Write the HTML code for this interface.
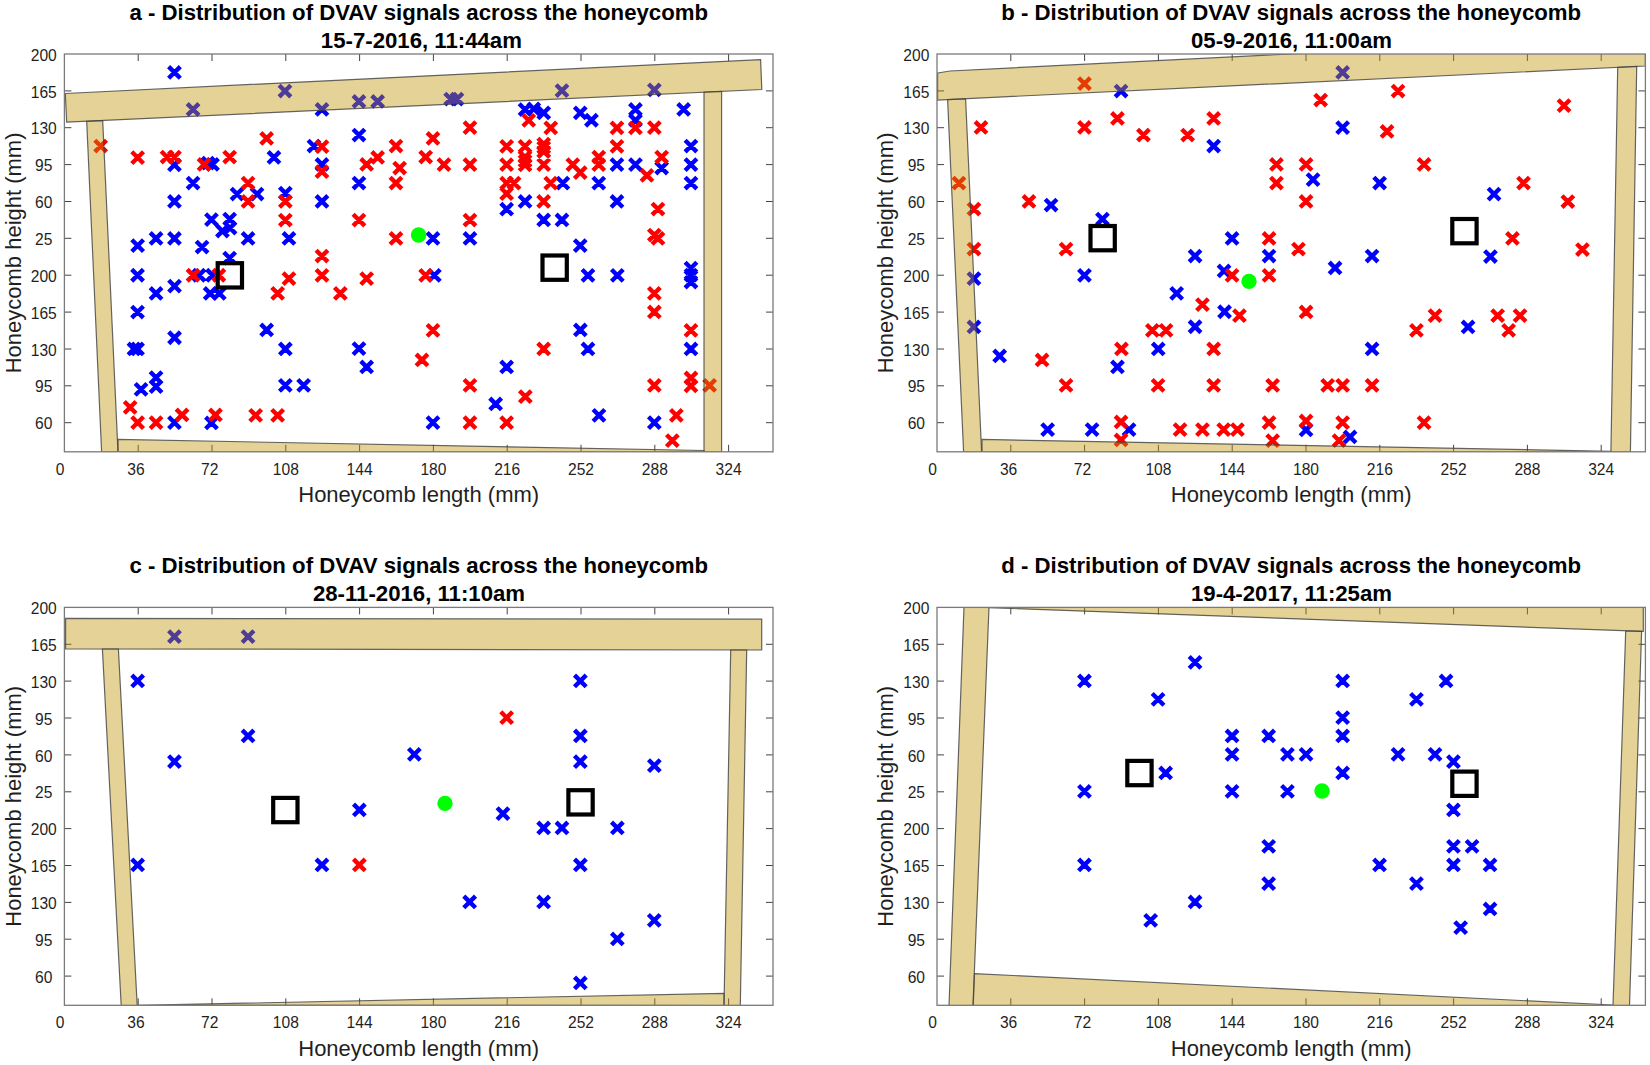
<!DOCTYPE html>
<html lang="en"><head><meta charset="utf-8"><title>Distribution of DVAV signals across the honeycomb</title>
<style>html,body{margin:0;padding:0;background:#fff}svg{display:block}text{font-family:'Liberation Sans', Arial, Helvetica, sans-serif;fill:#1f1f1f}.tk{font-size:15.6px}.lb{font-size:22px}.tt{font-size:22.2px;font-weight:bold;fill:#000}.b{stroke:#0000ff}.r{stroke:#ff0000}.m{stroke-width:4.4;fill:none;stroke-linecap:butt}.fr{fill:rgb(193,145,2);fill-opacity:.41;stroke:#404040;stroke-opacity:.8;stroke-width:1.2;stroke-linejoin:miter}.ax{fill:none;stroke:#7a7a7a;stroke-width:1.3}.ti{stroke:#444;stroke-width:1;fill:none}.sq{fill:none;stroke:#000;stroke-width:4.2}.g{fill:#00ff00}</style></head><body>
<svg width="1650" height="1065" viewBox="0 0 1650 1065">
<rect width="1650" height="1065" fill="#fff"/>
<g id="panel-a">
<clipPath id="cpa"><rect x="64.4" y="54" width="708.6" height="397.8"/></clipPath>
<text class="tt" x="418.7" y="19.7" text-anchor="middle">a - Distribution of DVAV signals across the honeycomb</text>
<text class="tt" x="421.4" y="47.6" text-anchor="middle">15-7-2016, 11:44am</text>
<path class="ti" d="M138.2 54v7M138.2 451.8v-7M212 54v7M212 451.8v-7M285.8 54v7M285.8 451.8v-7M359.6 54v7M359.6 451.8v-7M433.4 54v7M433.4 451.8v-7M507.2 54v7M507.2 451.8v-7M581 54v7M581 451.8v-7M654.8 54v7M654.8 451.8v-7M728.6 54v7M728.6 451.8v-7M64.4 90.9h7M773 90.9h-7M64.4 127.7h7M773 127.7h-7M64.4 164.6h7M773 164.6h-7M64.4 201.5h7M773 201.5h-7M64.4 238.3h7M773 238.3h-7M64.4 275.2h7M773 275.2h-7M64.4 312.1h7M773 312.1h-7M64.4 349h7M773 349h-7M64.4 385.8h7M773 385.8h-7M64.4 422.7h7M773 422.7h-7"/>
<g clip-path="url(#cpa)">
<path class="m b" d="M168.6 66.6l11.7 11.7m0 -11.7l-11.7 11.7M279.1 85.2l11.7 11.7m0 -11.7l-11.7 11.7M187.2 103.6l11.7 11.7m0 -11.7l-11.7 11.7M316.1 103.6l11.7 11.7m0 -11.7l-11.7 11.7M353.1 95.6l11.7 11.7m0 -11.7l-11.7 11.7M371.8 95.6l11.7 11.7m0 -11.7l-11.7 11.7M168.6 159l11.7 11.7m0 -11.7l-11.7 11.7M206.7 158.6l11.7 11.7m0 -11.7l-11.7 11.7M202.2 157.2l11.7 11.7m0 -11.7l-11.7 11.7M268.1 151.6l11.7 11.7m0 -11.7l-11.7 11.7M308.1 140.2l11.7 11.7m0 -11.7l-11.7 11.7M316.1 158.6l11.7 11.7m0 -11.7l-11.7 11.7M353.1 129.2l11.7 11.7m0 -11.7l-11.7 11.7M187.2 177.2l11.7 11.7m0 -11.7l-11.7 11.7M231.2 188.2l11.7 11.7m0 -11.7l-11.7 11.7M251.2 188.2l11.7 11.7m0 -11.7l-11.7 11.7M279.5 187.2l11.7 11.7m0 -11.7l-11.7 11.7M168.6 195.6l11.7 11.7m0 -11.7l-11.7 11.7M316.1 195.6l11.7 11.7m0 -11.7l-11.7 11.7M353.1 177.2l11.7 11.7m0 -11.7l-11.7 11.7M205.6 213.8l11.7 11.7m0 -11.7l-11.7 11.7M223.8 213.2l11.7 11.7m0 -11.7l-11.7 11.7M224.2 222.2l11.7 11.7m0 -11.7l-11.7 11.7M216.6 225.2l11.7 11.7m0 -11.7l-11.7 11.7M242.2 232.6l11.7 11.7m0 -11.7l-11.7 11.7M283.1 232.6l11.7 11.7m0 -11.7l-11.7 11.7M168.6 232.6l11.7 11.7m0 -11.7l-11.7 11.7M150.2 232.6l11.7 11.7m0 -11.7l-11.7 11.7M131.8 239.8l11.7 11.7m0 -11.7l-11.7 11.7M196.2 241.2l11.7 11.7m0 -11.7l-11.7 11.7M223.8 252.2l11.7 11.7m0 -11.7l-11.7 11.7M444.8 93.2l11.7 11.7m0 -11.7l-11.7 11.7M451.1 93.2l11.7 11.7m0 -11.7l-11.7 11.7M556.1 84.8l11.7 11.7m0 -11.7l-11.7 11.7M648.5 84l11.7 11.7m0 -11.7l-11.7 11.7M519.2 103.7l11.7 11.7m0 -11.7l-11.7 11.7M527.9 103l11.7 11.7m0 -11.7l-11.7 11.7M537.9 107l11.7 11.7m0 -11.7l-11.7 11.7M574.4 107l11.7 11.7m0 -11.7l-11.7 11.7M585.6 114.4l11.7 11.7m0 -11.7l-11.7 11.7M629.6 103.6l11.7 11.7m0 -11.7l-11.7 11.7M629.6 114.6l11.7 11.7m0 -11.7l-11.7 11.7M677.8 103.6l11.7 11.7m0 -11.7l-11.7 11.7M611.1 158.8l11.7 11.7m0 -11.7l-11.7 11.7M629.6 158.8l11.7 11.7m0 -11.7l-11.7 11.7M655.8 162.2l11.7 11.7m0 -11.7l-11.7 11.7M685.1 140.2l11.7 11.7m0 -11.7l-11.7 11.7M685.1 158.8l11.7 11.7m0 -11.7l-11.7 11.7M685.1 177.2l11.7 11.7m0 -11.7l-11.7 11.7M557 177.3l11.7 11.7m0 -11.7l-11.7 11.7M592.9 177.3l11.7 11.7m0 -11.7l-11.7 11.7M519.2 195.6l11.7 11.7m0 -11.7l-11.7 11.7M500.8 203.3l11.7 11.7m0 -11.7l-11.7 11.7M611.1 195.6l11.7 11.7m0 -11.7l-11.7 11.7M537.8 214.1l11.7 11.7m0 -11.7l-11.7 11.7M556.1 214.1l11.7 11.7m0 -11.7l-11.7 11.7M427.1 232.6l11.7 11.7m0 -11.7l-11.7 11.7M464.1 232.6l11.7 11.7m0 -11.7l-11.7 11.7M574.4 239.8l11.7 11.7m0 -11.7l-11.7 11.7M131.7 269.4l11.7 11.7m0 -11.7l-11.7 11.7M193.2 269.4l11.7 11.7m0 -11.7l-11.7 11.7M206.7 269.4l11.7 11.7m0 -11.7l-11.7 11.7M168.7 280.3l11.7 11.7m0 -11.7l-11.7 11.7M150.2 287.6l11.7 11.7m0 -11.7l-11.7 11.7M204.3 287.6l11.7 11.7m0 -11.7l-11.7 11.7M213.5 287.6l11.7 11.7m0 -11.7l-11.7 11.7M131.7 306.2l11.7 11.7m0 -11.7l-11.7 11.7M168.7 331.9l11.7 11.7m0 -11.7l-11.7 11.7M128.1 343.1l11.7 11.7m0 -11.7l-11.7 11.7M131.7 343.1l11.7 11.7m0 -11.7l-11.7 11.7M260.8 324.1l11.7 11.7m0 -11.7l-11.7 11.7M279.5 343.1l11.7 11.7m0 -11.7l-11.7 11.7M353.1 342.8l11.7 11.7m0 -11.7l-11.7 11.7M360.8 361.1l11.7 11.7m0 -11.7l-11.7 11.7M279.5 379.5l11.7 11.7m0 -11.7l-11.7 11.7M297.8 379.5l11.7 11.7m0 -11.7l-11.7 11.7M150.2 371.8l11.7 11.7m0 -11.7l-11.7 11.7M150.2 380.8l11.7 11.7m0 -11.7l-11.7 11.7M135.2 383.5l11.7 11.7m0 -11.7l-11.7 11.7M168.6 416.8l11.7 11.7m0 -11.7l-11.7 11.7M205.6 417.1l11.7 11.7m0 -11.7l-11.7 11.7M428.5 269.5l11.7 11.7m0 -11.7l-11.7 11.7M582.1 269.5l11.7 11.7m0 -11.7l-11.7 11.7M611.5 269.5l11.7 11.7m0 -11.7l-11.7 11.7M685.1 262.3l11.7 11.7m0 -11.7l-11.7 11.7M685.1 269.3l11.7 11.7m0 -11.7l-11.7 11.7M685.1 276.2l11.7 11.7m0 -11.7l-11.7 11.7M574.5 324.1l11.7 11.7m0 -11.7l-11.7 11.7M582.1 343.1l11.7 11.7m0 -11.7l-11.7 11.7M685.1 343.1l11.7 11.7m0 -11.7l-11.7 11.7M500.8 361.1l11.7 11.7m0 -11.7l-11.7 11.7M489.8 398.1l11.7 11.7m0 -11.7l-11.7 11.7M593.1 409.5l11.7 11.7m0 -11.7l-11.7 11.7M427.1 416.8l11.7 11.7m0 -11.7l-11.7 11.7M648.5 416.8l11.7 11.7m0 -11.7l-11.7 11.7"/>
<path class="m r" d="M94.8 140.2l11.7 11.7m0 -11.7l-11.7 11.7M131.8 151.8l11.7 11.7m0 -11.7l-11.7 11.7M161.2 151.2l11.7 11.7m0 -11.7l-11.7 11.7M168.6 151.2l11.7 11.7m0 -11.7l-11.7 11.7M198.2 158.6l11.7 11.7m0 -11.7l-11.7 11.7M223.8 151.2l11.7 11.7m0 -11.7l-11.7 11.7M260.8 132.6l11.7 11.7m0 -11.7l-11.7 11.7M316.1 140.8l11.7 11.7m0 -11.7l-11.7 11.7M316.1 165.8l11.7 11.7m0 -11.7l-11.7 11.7M371.8 151.6l11.7 11.7m0 -11.7l-11.7 11.7M360.8 158.6l11.7 11.7m0 -11.7l-11.7 11.7M242.2 177.2l11.7 11.7m0 -11.7l-11.7 11.7M242.2 195.6l11.7 11.7m0 -11.7l-11.7 11.7M279.5 195.6l11.7 11.7m0 -11.7l-11.7 11.7M279.5 214.2l11.7 11.7m0 -11.7l-11.7 11.7M353.1 214.2l11.7 11.7m0 -11.7l-11.7 11.7M316.1 250.2l11.7 11.7m0 -11.7l-11.7 11.7M464.1 121.8l11.7 11.7m0 -11.7l-11.7 11.7M522.9 114.5l11.7 11.7m0 -11.7l-11.7 11.7M544.9 122l11.7 11.7m0 -11.7l-11.7 11.7M611.1 122l11.7 11.7m0 -11.7l-11.7 11.7M629.6 122l11.7 11.7m0 -11.7l-11.7 11.7M648.5 121.8l11.7 11.7m0 -11.7l-11.7 11.7M427.1 132.6l11.7 11.7m0 -11.7l-11.7 11.7M390.1 140.2l11.7 11.7m0 -11.7l-11.7 11.7M419.8 151.2l11.7 11.7m0 -11.7l-11.7 11.7M438.1 158.8l11.7 11.7m0 -11.7l-11.7 11.7M464.1 158.8l11.7 11.7m0 -11.7l-11.7 11.7M393.8 162.2l11.7 11.7m0 -11.7l-11.7 11.7M390.1 177.2l11.7 11.7m0 -11.7l-11.7 11.7M500.8 140.5l11.7 11.7m0 -11.7l-11.7 11.7M519.2 140.5l11.7 11.7m0 -11.7l-11.7 11.7M519.2 151.2l11.7 11.7m0 -11.7l-11.7 11.7M519.2 155.2l11.7 11.7m0 -11.7l-11.7 11.7M519.2 159l11.7 11.7m0 -11.7l-11.7 11.7M537.9 138.3l11.7 11.7m0 -11.7l-11.7 11.7M537.9 141.6l11.7 11.7m0 -11.7l-11.7 11.7M537.9 145.7l11.7 11.7m0 -11.7l-11.7 11.7M537.9 158.8l11.7 11.7m0 -11.7l-11.7 11.7M500.8 158.8l11.7 11.7m0 -11.7l-11.7 11.7M611.1 140.5l11.7 11.7m0 -11.7l-11.7 11.7M592.9 151.2l11.7 11.7m0 -11.7l-11.7 11.7M592.9 158.8l11.7 11.7m0 -11.7l-11.7 11.7M567 158.8l11.7 11.7m0 -11.7l-11.7 11.7M574.4 166.8l11.7 11.7m0 -11.7l-11.7 11.7M655.8 151.2l11.7 11.7m0 -11.7l-11.7 11.7M641.1 169.6l11.7 11.7m0 -11.7l-11.7 11.7M500.8 177.3l11.7 11.7m0 -11.7l-11.7 11.7M508.2 177.3l11.7 11.7m0 -11.7l-11.7 11.7M500.8 187.8l11.7 11.7m0 -11.7l-11.7 11.7M544.9 177.3l11.7 11.7m0 -11.7l-11.7 11.7M537.8 195.6l11.7 11.7m0 -11.7l-11.7 11.7M652.1 203.2l11.7 11.7m0 -11.7l-11.7 11.7M464.1 214.2l11.7 11.7m0 -11.7l-11.7 11.7M390.1 232.6l11.7 11.7m0 -11.7l-11.7 11.7M648.5 229.2l11.7 11.7m0 -11.7l-11.7 11.7M652.1 232.6l11.7 11.7m0 -11.7l-11.7 11.7M187.2 269.4l11.7 11.7m0 -11.7l-11.7 11.7M213 269.4l11.7 11.7m0 -11.7l-11.7 11.7M283.1 272.8l11.7 11.7m0 -11.7l-11.7 11.7M316.1 269.5l11.7 11.7m0 -11.7l-11.7 11.7M360.8 272.8l11.7 11.7m0 -11.7l-11.7 11.7M271.8 287.5l11.7 11.7m0 -11.7l-11.7 11.7M334.5 287.5l11.7 11.7m0 -11.7l-11.7 11.7M124.3 401.5l11.7 11.7m0 -11.7l-11.7 11.7M131.8 416.8l11.7 11.7m0 -11.7l-11.7 11.7M150.2 416.8l11.7 11.7m0 -11.7l-11.7 11.7M176.2 409.1l11.7 11.7m0 -11.7l-11.7 11.7M209.6 409.1l11.7 11.7m0 -11.7l-11.7 11.7M249.8 409.5l11.7 11.7m0 -11.7l-11.7 11.7M271.8 409.5l11.7 11.7m0 -11.7l-11.7 11.7M419.8 269.5l11.7 11.7m0 -11.7l-11.7 11.7M648.5 287.5l11.7 11.7m0 -11.7l-11.7 11.7M648.5 306.1l11.7 11.7m0 -11.7l-11.7 11.7M427.1 324.5l11.7 11.7m0 -11.7l-11.7 11.7M685.1 324.5l11.7 11.7m0 -11.7l-11.7 11.7M537.8 343.1l11.7 11.7m0 -11.7l-11.7 11.7M416.1 354.1l11.7 11.7m0 -11.7l-11.7 11.7M464.1 379.5l11.7 11.7m0 -11.7l-11.7 11.7M648.5 379.5l11.7 11.7m0 -11.7l-11.7 11.7M685.1 372.1l11.7 11.7m0 -11.7l-11.7 11.7M685.1 380.1l11.7 11.7m0 -11.7l-11.7 11.7M703.8 379.5l11.7 11.7m0 -11.7l-11.7 11.7M519.5 390.8l11.7 11.7m0 -11.7l-11.7 11.7M670.5 409.5l11.7 11.7m0 -11.7l-11.7 11.7M464.1 416.8l11.7 11.7m0 -11.7l-11.7 11.7M500.8 416.8l11.7 11.7m0 -11.7l-11.7 11.7M666.5 434.8l11.7 11.7m0 -11.7l-11.7 11.7"/>
<circle class="g" cx="418.6" cy="235" r="7.7"/>
<rect class="sq" x="217.7" y="263.2" width="24.3" height="24.3"/>
<rect class="sq" x="542.5" y="255.5" width="24.3" height="24.3"/>
<polygon class="fr" points="65.3,93.5 760.6,59.6 761.8,89.5 66.7,122.2"/>
<polygon class="fr" points="86.7,121.4 102.7,120.7 118,452 101.6,452"/>
<polygon class="fr" points="704,92.2 721.6,91.4 721.6,452 704,452"/>
<polygon class="fr" points="118,439.4 704,450.5 704,452 118,452"/>
</g>
<rect class="ax" x="64.4" y="54" width="708.6" height="397.8"/>
<text class="tk" x="60" y="474.7" text-anchor="middle">0</text>
<text class="tk" x="136" y="474.7" text-anchor="middle">36</text>
<text class="tk" x="209.8" y="474.7" text-anchor="middle">72</text>
<text class="tk" x="285.8" y="474.7" text-anchor="middle">108</text>
<text class="tk" x="359.6" y="474.7" text-anchor="middle">144</text>
<text class="tk" x="433.4" y="474.7" text-anchor="middle">180</text>
<text class="tk" x="507.2" y="474.7" text-anchor="middle">216</text>
<text class="tk" x="581" y="474.7" text-anchor="middle">252</text>
<text class="tk" x="654.8" y="474.7" text-anchor="middle">288</text>
<text class="tk" x="728.6" y="474.7" text-anchor="middle">324</text>
<text class="tk" x="56.8" y="60.6" text-anchor="end">200</text>
<text class="tk" x="56.8" y="97.5" text-anchor="end">165</text>
<text class="tk" x="56.8" y="134.3" text-anchor="end">130</text>
<text class="tk" x="52.4" y="171.2" text-anchor="end">95</text>
<text class="tk" x="52.4" y="208.1" text-anchor="end">60</text>
<text class="tk" x="52.4" y="244.9" text-anchor="end">25</text>
<text class="tk" x="56.8" y="281.8" text-anchor="end">200</text>
<text class="tk" x="56.8" y="318.7" text-anchor="end">165</text>
<text class="tk" x="56.8" y="355.6" text-anchor="end">130</text>
<text class="tk" x="52.4" y="392.4" text-anchor="end">95</text>
<text class="tk" x="52.4" y="429.3" text-anchor="end">60</text>
<text class="lb" x="418.7" y="502" text-anchor="middle">Honeycomb length (mm)</text>
<text class="lb" transform="translate(20.8 252.9) rotate(-90)" text-anchor="middle">Honeycomb height (mm)</text>
</g>
<g id="panel-b">
<clipPath id="cpb"><rect x="937" y="54" width="708.4" height="397.8"/></clipPath>
<text class="tt" x="1291.2" y="19.7" text-anchor="middle">b - Distribution of DVAV signals across the honeycomb</text>
<text class="tt" x="1291.5" y="47.6" text-anchor="middle">05-9-2016, 11:00am</text>
<path class="ti" d="M1010.8 54v7M1010.8 451.8v-7M1084.6 54v7M1084.6 451.8v-7M1158.4 54v7M1158.4 451.8v-7M1232.2 54v7M1232.2 451.8v-7M1306 54v7M1306 451.8v-7M1379.8 54v7M1379.8 451.8v-7M1453.6 54v7M1453.6 451.8v-7M1527.4 54v7M1527.4 451.8v-7M1601.2 54v7M1601.2 451.8v-7M937 90.9h7M1645.4 90.9h-7M937 127.7h7M1645.4 127.7h-7M937 164.6h7M1645.4 164.6h-7M937 201.5h7M1645.4 201.5h-7M937 238.3h7M1645.4 238.3h-7M937 275.2h7M1645.4 275.2h-7M937 312.1h7M1645.4 312.1h-7M937 349h7M1645.4 349h-7M937 385.8h7M1645.4 385.8h-7M937 422.7h7M1645.4 422.7h-7"/>
<g clip-path="url(#cpb)">
<path class="m b" d="M1115.2 85.2l11.7 11.7m0 -11.7l-11.7 11.7M1207.8 140.2l11.7 11.7m0 -11.7l-11.7 11.7M1045.2 199.2l11.7 11.7m0 -11.7l-11.7 11.7M1096.6 213.2l11.7 11.7m0 -11.7l-11.7 11.7M1226.2 232.6l11.7 11.7m0 -11.7l-11.7 11.7M1189.2 250.2l11.7 11.7m0 -11.7l-11.7 11.7M1336.8 66.6l11.7 11.7m0 -11.7l-11.7 11.7M1336.8 121.8l11.7 11.7m0 -11.7l-11.7 11.7M1307.2 173.8l11.7 11.7m0 -11.7l-11.7 11.7M1373.8 177.2l11.7 11.7m0 -11.7l-11.7 11.7M1488.2 188.3l11.7 11.7m0 -11.7l-11.7 11.7M1263.2 250.2l11.7 11.7m0 -11.7l-11.7 11.7M1366.2 250.2l11.7 11.7m0 -11.7l-11.7 11.7M1484.6 250.7l11.7 11.7m0 -11.7l-11.7 11.7M968.1 272.8l11.7 11.7m0 -11.7l-11.7 11.7M968.1 321.1l11.7 11.7m0 -11.7l-11.7 11.7M1078.6 269.5l11.7 11.7m0 -11.7l-11.7 11.7M1218.2 265.1l11.7 11.7m0 -11.7l-11.7 11.7M1170.8 287.5l11.7 11.7m0 -11.7l-11.7 11.7M1218.7 305.9l11.7 11.7m0 -11.7l-11.7 11.7M1189.2 320.9l11.7 11.7m0 -11.7l-11.7 11.7M1152.4 343.1l11.7 11.7m0 -11.7l-11.7 11.7M993.8 350.1l11.7 11.7m0 -11.7l-11.7 11.7M1111.6 361.1l11.7 11.7m0 -11.7l-11.7 11.7M1041.8 423.8l11.7 11.7m0 -11.7l-11.7 11.7M1086.2 423.8l11.7 11.7m0 -11.7l-11.7 11.7M1123.2 423.8l11.7 11.7m0 -11.7l-11.7 11.7M1329.2 262.1l11.7 11.7m0 -11.7l-11.7 11.7M1462.2 321.1l11.7 11.7m0 -11.7l-11.7 11.7M1366.2 343.1l11.7 11.7m0 -11.7l-11.7 11.7M1300.2 424.1l11.7 11.7m0 -11.7l-11.7 11.7M1344.2 431.1l11.7 11.7m0 -11.7l-11.7 11.7"/>
<path class="m r" d="M1078.6 77.8l11.7 11.7m0 -11.7l-11.7 11.7M975.1 121.6l11.7 11.7m0 -11.7l-11.7 11.7M1078.6 121.6l11.7 11.7m0 -11.7l-11.7 11.7M1111.6 112.6l11.7 11.7m0 -11.7l-11.7 11.7M1137.6 129.2l11.7 11.7m0 -11.7l-11.7 11.7M1181.8 129.2l11.7 11.7m0 -11.7l-11.7 11.7M1207.8 112.6l11.7 11.7m0 -11.7l-11.7 11.7M953.1 177.2l11.7 11.7m0 -11.7l-11.7 11.7M968.1 203.2l11.7 11.7m0 -11.7l-11.7 11.7M1023.1 195.6l11.7 11.7m0 -11.7l-11.7 11.7M968.1 243.2l11.7 11.7m0 -11.7l-11.7 11.7M1060.2 243.2l11.7 11.7m0 -11.7l-11.7 11.7M1392.2 85.2l11.7 11.7m0 -11.7l-11.7 11.7M1314.8 94.2l11.7 11.7m0 -11.7l-11.7 11.7M1558.2 99.8l11.7 11.7m0 -11.7l-11.7 11.7M1381.2 125.6l11.7 11.7m0 -11.7l-11.7 11.7M1270.6 158.6l11.7 11.7m0 -11.7l-11.7 11.7M1300.2 158.6l11.7 11.7m0 -11.7l-11.7 11.7M1418.2 158.6l11.7 11.7m0 -11.7l-11.7 11.7M1270.6 177.2l11.7 11.7m0 -11.7l-11.7 11.7M1517.7 177.2l11.7 11.7m0 -11.7l-11.7 11.7M1300.2 195.6l11.7 11.7m0 -11.7l-11.7 11.7M1562 195.7l11.7 11.7m0 -11.7l-11.7 11.7M1263.2 232.6l11.7 11.7m0 -11.7l-11.7 11.7M1506.6 232.6l11.7 11.7m0 -11.7l-11.7 11.7M1292.6 243.2l11.7 11.7m0 -11.7l-11.7 11.7M1576.6 243.7l11.7 11.7m0 -11.7l-11.7 11.7M1226.2 269.5l11.7 11.7m0 -11.7l-11.7 11.7M1196.6 298.8l11.7 11.7m0 -11.7l-11.7 11.7M1233.6 309.8l11.7 11.7m0 -11.7l-11.7 11.7M1146.5 324.5l11.7 11.7m0 -11.7l-11.7 11.7M1160.2 324.5l11.7 11.7m0 -11.7l-11.7 11.7M1115.6 343.1l11.7 11.7m0 -11.7l-11.7 11.7M1207.8 343.1l11.7 11.7m0 -11.7l-11.7 11.7M1036.2 354.1l11.7 11.7m0 -11.7l-11.7 11.7M1060.2 379.5l11.7 11.7m0 -11.7l-11.7 11.7M1152.2 379.5l11.7 11.7m0 -11.7l-11.7 11.7M1207.8 379.5l11.7 11.7m0 -11.7l-11.7 11.7M1115.2 416.1l11.7 11.7m0 -11.7l-11.7 11.7M1115.2 434.1l11.7 11.7m0 -11.7l-11.7 11.7M1174.2 423.8l11.7 11.7m0 -11.7l-11.7 11.7M1196.6 423.8l11.7 11.7m0 -11.7l-11.7 11.7M1217.8 423.8l11.7 11.7m0 -11.7l-11.7 11.7M1231.6 423.8l11.7 11.7m0 -11.7l-11.7 11.7M1263.2 269.5l11.7 11.7m0 -11.7l-11.7 11.7M1300.2 306.1l11.7 11.7m0 -11.7l-11.7 11.7M1429.2 309.8l11.7 11.7m0 -11.7l-11.7 11.7M1410.6 324.5l11.7 11.7m0 -11.7l-11.7 11.7M1491.8 309.8l11.7 11.7m0 -11.7l-11.7 11.7M1514.2 309.8l11.7 11.7m0 -11.7l-11.7 11.7M1502.8 324.5l11.7 11.7m0 -11.7l-11.7 11.7M1266.8 379.5l11.7 11.7m0 -11.7l-11.7 11.7M1321.8 379.5l11.7 11.7m0 -11.7l-11.7 11.7M1336.8 379.5l11.7 11.7m0 -11.7l-11.7 11.7M1366.2 379.5l11.7 11.7m0 -11.7l-11.7 11.7M1263.2 416.8l11.7 11.7m0 -11.7l-11.7 11.7M1300.2 415.1l11.7 11.7m0 -11.7l-11.7 11.7M1336.8 416.8l11.7 11.7m0 -11.7l-11.7 11.7M1418.2 416.8l11.7 11.7m0 -11.7l-11.7 11.7M1266.8 434.8l11.7 11.7m0 -11.7l-11.7 11.7M1333.2 434.8l11.7 11.7m0 -11.7l-11.7 11.7"/>
<circle class="g" cx="1249" cy="281.4" r="7.7"/>
<rect class="sq" x="1090.5" y="226" width="24.3" height="24.3"/>
<rect class="sq" x="1452.3" y="219" width="24.3" height="24.3"/>
<polygon class="fr" points="937.6,73 950,71 1645.4,36.2 1645.4,66 937.6,100"/>
<polygon class="fr" points="947.6,99.6 965.6,98.8 981.6,452 963.6,452"/>
<polygon class="fr" points="1617.7,67.4 1636.7,66.4 1630.4,452 1610.9,452"/>
<polygon class="fr" points="982,439.4 1611,451.3 1611,452 982,452"/>
</g>
<rect class="ax" x="937" y="54" width="708.4" height="397.8"/>
<text class="tk" x="932.6" y="474.7" text-anchor="middle">0</text>
<text class="tk" x="1008.6" y="474.7" text-anchor="middle">36</text>
<text class="tk" x="1082.4" y="474.7" text-anchor="middle">72</text>
<text class="tk" x="1158.4" y="474.7" text-anchor="middle">108</text>
<text class="tk" x="1232.2" y="474.7" text-anchor="middle">144</text>
<text class="tk" x="1306" y="474.7" text-anchor="middle">180</text>
<text class="tk" x="1379.8" y="474.7" text-anchor="middle">216</text>
<text class="tk" x="1453.6" y="474.7" text-anchor="middle">252</text>
<text class="tk" x="1527.4" y="474.7" text-anchor="middle">288</text>
<text class="tk" x="1601.2" y="474.7" text-anchor="middle">324</text>
<text class="tk" x="929.4" y="60.6" text-anchor="end">200</text>
<text class="tk" x="929.4" y="97.5" text-anchor="end">165</text>
<text class="tk" x="929.4" y="134.3" text-anchor="end">130</text>
<text class="tk" x="925" y="171.2" text-anchor="end">95</text>
<text class="tk" x="925" y="208.1" text-anchor="end">60</text>
<text class="tk" x="925" y="244.9" text-anchor="end">25</text>
<text class="tk" x="929.4" y="281.8" text-anchor="end">200</text>
<text class="tk" x="929.4" y="318.7" text-anchor="end">165</text>
<text class="tk" x="929.4" y="355.6" text-anchor="end">130</text>
<text class="tk" x="925" y="392.4" text-anchor="end">95</text>
<text class="tk" x="925" y="429.3" text-anchor="end">60</text>
<text class="lb" x="1291.2" y="502" text-anchor="middle">Honeycomb length (mm)</text>
<text class="lb" transform="translate(893.4 252.9) rotate(-90)" text-anchor="middle">Honeycomb height (mm)</text>
</g>
<g id="panel-c">
<clipPath id="cpc"><rect x="64.4" y="607.4" width="708.6" height="397.9"/></clipPath>
<text class="tt" x="418.7" y="573.1" text-anchor="middle">c - Distribution of DVAV signals across the honeycomb</text>
<text class="tt" x="419" y="600.5" text-anchor="middle">28-11-2016, 11:10am</text>
<path class="ti" d="M138.2 607.4v7M138.2 1005.3v-7M212 607.4v7M212 1005.3v-7M285.8 607.4v7M285.8 1005.3v-7M359.6 607.4v7M359.6 1005.3v-7M433.4 607.4v7M433.4 1005.3v-7M507.2 607.4v7M507.2 1005.3v-7M581 607.4v7M581 1005.3v-7M654.8 607.4v7M654.8 1005.3v-7M728.6 607.4v7M728.6 1005.3v-7M64.4 644.3h7M773 644.3h-7M64.4 681.1h7M773 681.1h-7M64.4 718h7M773 718h-7M64.4 754.9h7M773 754.9h-7M64.4 791.8h7M773 791.8h-7M64.4 828.6h7M773 828.6h-7M64.4 865.5h7M773 865.5h-7M64.4 902.4h7M773 902.4h-7M64.4 939.2h7M773 939.2h-7M64.4 976.1h7M773 976.1h-7"/>
<g clip-path="url(#cpc)">
<path class="m b" d="M168.6 630.8l11.7 11.7m0 -11.7l-11.7 11.7M242.2 630.8l11.7 11.7m0 -11.7l-11.7 11.7M131.8 675.1l11.7 11.7m0 -11.7l-11.7 11.7M242.2 730.1l11.7 11.7m0 -11.7l-11.7 11.7M168.6 755.8l11.7 11.7m0 -11.7l-11.7 11.7M353.5 804.1l11.7 11.7m0 -11.7l-11.7 11.7M574.5 675.1l11.7 11.7m0 -11.7l-11.7 11.7M574.5 730.1l11.7 11.7m0 -11.7l-11.7 11.7M408.5 748.5l11.7 11.7m0 -11.7l-11.7 11.7M574.5 755.8l11.7 11.7m0 -11.7l-11.7 11.7M648.5 759.8l11.7 11.7m0 -11.7l-11.7 11.7M497.1 807.8l11.7 11.7m0 -11.7l-11.7 11.7M131.8 859.1l11.7 11.7m0 -11.7l-11.7 11.7M316.1 859.1l11.7 11.7m0 -11.7l-11.7 11.7M537.8 822.1l11.7 11.7m0 -11.7l-11.7 11.7M556.1 822.1l11.7 11.7m0 -11.7l-11.7 11.7M611.5 822.1l11.7 11.7m0 -11.7l-11.7 11.7M574.5 859.1l11.7 11.7m0 -11.7l-11.7 11.7M463.8 896.1l11.7 11.7m0 -11.7l-11.7 11.7M537.8 896.1l11.7 11.7m0 -11.7l-11.7 11.7M648.4 914.5l11.7 11.7m0 -11.7l-11.7 11.7M611.5 933.1l11.7 11.7m0 -11.7l-11.7 11.7M574.5 977.1l11.7 11.7m0 -11.7l-11.7 11.7"/>
<path class="m r" d="M500.8 711.8l11.7 11.7m0 -11.7l-11.7 11.7M353.5 859.1l11.7 11.7m0 -11.7l-11.7 11.7"/>
<circle class="g" cx="445" cy="803.4" r="7.7"/>
<rect class="sq" x="273.2" y="797.9" width="24.3" height="24.3"/>
<rect class="sq" x="568.4" y="790.2" width="24.3" height="24.3"/>
<polygon class="fr" points="65.6,618.4 761.7,619.2 761.7,650 65.6,648.8"/>
<polygon class="fr" points="102.4,649 118.4,649 137.2,1005.5 121.2,1005.5"/>
<polygon class="fr" points="730.7,650 746.7,650 740.3,1005.5 724,1005.5"/>
<polygon class="fr" points="137.2,1005.4 724,993.3 724,1005.5"/>
</g>
<rect class="ax" x="64.4" y="607.4" width="708.6" height="397.9"/>
<text class="tk" x="60" y="1028.2" text-anchor="middle">0</text>
<text class="tk" x="136" y="1028.2" text-anchor="middle">36</text>
<text class="tk" x="209.8" y="1028.2" text-anchor="middle">72</text>
<text class="tk" x="285.8" y="1028.2" text-anchor="middle">108</text>
<text class="tk" x="359.6" y="1028.2" text-anchor="middle">144</text>
<text class="tk" x="433.4" y="1028.2" text-anchor="middle">180</text>
<text class="tk" x="507.2" y="1028.2" text-anchor="middle">216</text>
<text class="tk" x="581" y="1028.2" text-anchor="middle">252</text>
<text class="tk" x="654.8" y="1028.2" text-anchor="middle">288</text>
<text class="tk" x="728.6" y="1028.2" text-anchor="middle">324</text>
<text class="tk" x="56.8" y="614" text-anchor="end">200</text>
<text class="tk" x="56.8" y="650.9" text-anchor="end">165</text>
<text class="tk" x="56.8" y="687.7" text-anchor="end">130</text>
<text class="tk" x="52.4" y="724.6" text-anchor="end">95</text>
<text class="tk" x="52.4" y="761.5" text-anchor="end">60</text>
<text class="tk" x="52.4" y="798.4" text-anchor="end">25</text>
<text class="tk" x="56.8" y="835.2" text-anchor="end">200</text>
<text class="tk" x="56.8" y="872.1" text-anchor="end">165</text>
<text class="tk" x="56.8" y="909" text-anchor="end">130</text>
<text class="tk" x="52.4" y="945.8" text-anchor="end">95</text>
<text class="tk" x="52.4" y="982.7" text-anchor="end">60</text>
<text class="lb" x="418.7" y="1055.5" text-anchor="middle">Honeycomb length (mm)</text>
<text class="lb" transform="translate(20.8 806.3) rotate(-90)" text-anchor="middle">Honeycomb height (mm)</text>
</g>
<g id="panel-d">
<clipPath id="cpd"><rect x="937" y="607.4" width="708.4" height="397.9"/></clipPath>
<text class="tt" x="1291.2" y="573.1" text-anchor="middle">d - Distribution of DVAV signals across the honeycomb</text>
<text class="tt" x="1291.5" y="600.5" text-anchor="middle">19-4-2017, 11:25am</text>
<path class="ti" d="M1010.8 607.4v7M1010.8 1005.3v-7M1084.6 607.4v7M1084.6 1005.3v-7M1158.4 607.4v7M1158.4 1005.3v-7M1232.2 607.4v7M1232.2 1005.3v-7M1306 607.4v7M1306 1005.3v-7M1379.8 607.4v7M1379.8 1005.3v-7M1453.6 607.4v7M1453.6 1005.3v-7M1527.4 607.4v7M1527.4 1005.3v-7M1601.2 607.4v7M1601.2 1005.3v-7M937 644.3h7M1645.4 644.3h-7M937 681.1h7M1645.4 681.1h-7M937 718h7M1645.4 718h-7M937 754.9h7M1645.4 754.9h-7M937 791.8h7M1645.4 791.8h-7M937 828.6h7M1645.4 828.6h-7M937 865.5h7M1645.4 865.5h-7M937 902.4h7M1645.4 902.4h-7M937 939.2h7M1645.4 939.2h-7M937 976.1h7M1645.4 976.1h-7"/>
<g clip-path="url(#cpd)">
<path class="m b" d="M1078.6 675.1l11.7 11.7m0 -11.7l-11.7 11.7M1189.2 656.5l11.7 11.7m0 -11.7l-11.7 11.7M1152.2 693.5l11.7 11.7m0 -11.7l-11.7 11.7M1336.8 675.1l11.7 11.7m0 -11.7l-11.7 11.7M1336.8 711.8l11.7 11.7m0 -11.7l-11.7 11.7M1336.8 730.1l11.7 11.7m0 -11.7l-11.7 11.7M1226.2 730.1l11.7 11.7m0 -11.7l-11.7 11.7M1262.8 730.1l11.7 11.7m0 -11.7l-11.7 11.7M1226.2 748.5l11.7 11.7m0 -11.7l-11.7 11.7M1281.6 748.5l11.7 11.7m0 -11.7l-11.7 11.7M1300.2 748.5l11.7 11.7m0 -11.7l-11.7 11.7M1159.8 767.1l11.7 11.7m0 -11.7l-11.7 11.7M1336.8 767.1l11.7 11.7m0 -11.7l-11.7 11.7M1078.6 785.5l11.7 11.7m0 -11.7l-11.7 11.7M1226.2 785.5l11.7 11.7m0 -11.7l-11.7 11.7M1281.6 785.5l11.7 11.7m0 -11.7l-11.7 11.7M1262.8 840.5l11.7 11.7m0 -11.7l-11.7 11.7M1440.2 675.1l11.7 11.7m0 -11.7l-11.7 11.7M1410.6 693.5l11.7 11.7m0 -11.7l-11.7 11.7M1392.2 748.5l11.7 11.7m0 -11.7l-11.7 11.7M1429.2 748.5l11.7 11.7m0 -11.7l-11.7 11.7M1447.6 755.8l11.7 11.7m0 -11.7l-11.7 11.7M1447.6 804.1l11.7 11.7m0 -11.7l-11.7 11.7M1447.6 840.5l11.7 11.7m0 -11.7l-11.7 11.7M1466.2 840.5l11.7 11.7m0 -11.7l-11.7 11.7M1078.6 859.1l11.7 11.7m0 -11.7l-11.7 11.7M1262.8 877.8l11.7 11.7m0 -11.7l-11.7 11.7M1189.2 896.1l11.7 11.7m0 -11.7l-11.7 11.7M1144.8 914.5l11.7 11.7m0 -11.7l-11.7 11.7M1373.7 859.1l11.7 11.7m0 -11.7l-11.7 11.7M1447.6 859.1l11.7 11.7m0 -11.7l-11.7 11.7M1484.2 859.1l11.7 11.7m0 -11.7l-11.7 11.7M1410.6 877.8l11.7 11.7m0 -11.7l-11.7 11.7M1484.2 903.1l11.7 11.7m0 -11.7l-11.7 11.7M1454.8 921.8l11.7 11.7m0 -11.7l-11.7 11.7"/>
<circle class="g" cx="1322" cy="791" r="7.7"/>
<rect class="sq" x="1127.3" y="760.9" width="24.3" height="24.3"/>
<rect class="sq" x="1452.3" y="771.6" width="24.3" height="24.3"/>
<polygon class="fr" points="989,600 1643.3,600 1643.3,631.4 989,607.7"/>
<polygon class="fr" points="964,607 989,607 973,1005.5 949,1005.5"/>
<polygon class="fr" points="1625.7,631 1641.6,631.4 1629.5,1005.5 1613,1005.5"/>
<polygon class="fr" points="974.5,973.6 1612.5,1005 1612.5,1006 973.2,1006"/>
</g>
<rect class="ax" x="937" y="607.4" width="708.4" height="397.9"/>
<text class="tk" x="932.6" y="1028.2" text-anchor="middle">0</text>
<text class="tk" x="1008.6" y="1028.2" text-anchor="middle">36</text>
<text class="tk" x="1082.4" y="1028.2" text-anchor="middle">72</text>
<text class="tk" x="1158.4" y="1028.2" text-anchor="middle">108</text>
<text class="tk" x="1232.2" y="1028.2" text-anchor="middle">144</text>
<text class="tk" x="1306" y="1028.2" text-anchor="middle">180</text>
<text class="tk" x="1379.8" y="1028.2" text-anchor="middle">216</text>
<text class="tk" x="1453.6" y="1028.2" text-anchor="middle">252</text>
<text class="tk" x="1527.4" y="1028.2" text-anchor="middle">288</text>
<text class="tk" x="1601.2" y="1028.2" text-anchor="middle">324</text>
<text class="tk" x="929.4" y="614" text-anchor="end">200</text>
<text class="tk" x="929.4" y="650.9" text-anchor="end">165</text>
<text class="tk" x="929.4" y="687.7" text-anchor="end">130</text>
<text class="tk" x="925" y="724.6" text-anchor="end">95</text>
<text class="tk" x="925" y="761.5" text-anchor="end">60</text>
<text class="tk" x="925" y="798.4" text-anchor="end">25</text>
<text class="tk" x="929.4" y="835.2" text-anchor="end">200</text>
<text class="tk" x="929.4" y="872.1" text-anchor="end">165</text>
<text class="tk" x="929.4" y="909" text-anchor="end">130</text>
<text class="tk" x="925" y="945.8" text-anchor="end">95</text>
<text class="tk" x="925" y="982.7" text-anchor="end">60</text>
<text class="lb" x="1291.2" y="1055.5" text-anchor="middle">Honeycomb length (mm)</text>
<text class="lb" transform="translate(893.4 806.3) rotate(-90)" text-anchor="middle">Honeycomb height (mm)</text>
</g>
</svg></body></html>
